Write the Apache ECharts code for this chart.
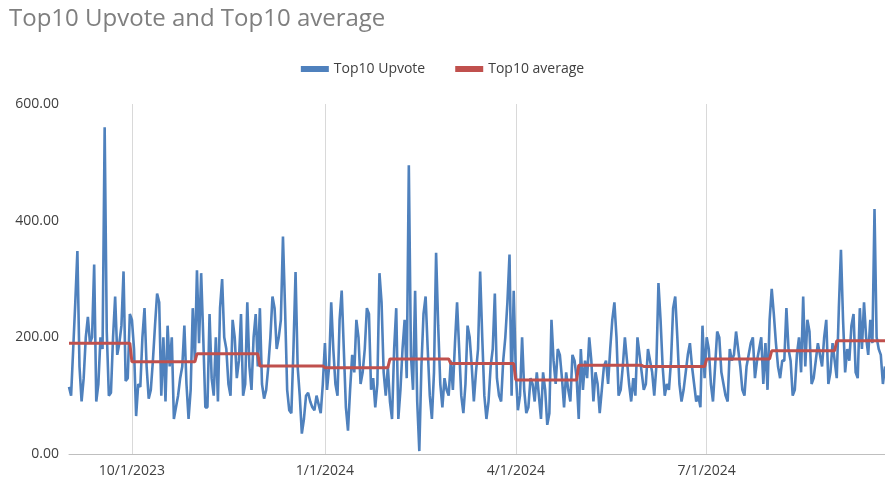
<!DOCTYPE html>
<html><head><meta charset="utf-8">
<script src="https://cdn.jsdelivr.net/npm/echarts@6/dist/echarts.min.js"></script>
<style>html,body{margin:0;padding:0;background:#fff}#c{width:885px;height:488px}</style>
</head><body><div id="c"></div>
<script>
const startDate = [2023, 8, 1]; // Sep 1 2023 (month 0-based)
const sep23 = [115,100,180,260,348,150,90,130,200,235,190,200,325,90,120,200,180,560,210,100,105,200,270,170,190,220,313,125,130,240];
const oct23 = [230,180,65,120,115,200,250,150,95,110,160,220,275,260,100,200,90,220,150,200,60,80,100,130,150,220,120,60,110,250,160];
const nov23 = [315,190,310,200,80,80,240,130,100,200,90,250,300,200,180,120,100,230,200,130,160,240,100,120,260,150,110,200,240,150];
const dec23 = [250,120,95,110,150,200,270,250,180,200,230,373,250,110,75,70,180,312,150,100,35,60,100,105,90,80,75,100,85,70,120];
const jan24 = [190,110,150,260,180,120,100,230,280,180,80,40,110,170,140,230,200,120,140,180,250,240,110,130,80,120,310,260,140,100,150];
const feb24 = [90,60,180,250,60,110,180,230,130,495,170,110,280,90,5,150,240,270,180,100,60,140,345,220,120,80,130,110,100];
const mar24 = [160,110,190,260,180,100,70,120,220,200,150,90,140,180,313,200,100,60,90,150,180,275,130,100,90,160,200,260,342,100,280];
const apr24 = [140,75,100,200,110,70,80,130,120,90,140,100,60,140,110,50,70,230,160,120,180,170,130,80,140,110,90,170,160,130];
const may24 = [60,180,110,160,130,200,160,90,140,120,70,110,150,160,120,180,230,260,200,100,110,150,200,160,120,90,130,100,200,170,140];
const jun24 = [110,120,180,160,140,100,150,293,230,150,100,120,110,160,250,270,200,120,90,110,140,170,190,150,120,90,100,80,220,130];
const jul24 = [200,180,120,90,150,210,200,140,120,100,90,180,160,170,210,180,150,110,100,150,170,190,200,130,160,180,200,120,190,110,230];
const aug24 = [283,240,190,150,130,160,160,250,180,160,100,110,170,200,140,270,150,230,210,120,130,160,190,170,150,200,230,120,140,190,160];
const sep24 = [130,250,350,230,140,180,160,220,240,140,130,250,180,260,200,170,230,190,420,200,180,170,120,150];
const months = [sep23,oct23,nov23,dec23,jan24,feb24,mar24,apr24,may24,jun24,jul24,aug24,sep24];
const monthAvg = [190,158,172,151,148,163,155,127,152,150,163,177,194];
const tickDates = ['10/1/2023','1/1/2024','4/1/2024','7/1/2024'];

const cats=[], upv=[], avg=[];
let d = new Date(startDate[0], startDate[1], startDate[2]);
months.forEach((m,mi)=>{ m.forEach(v=>{
  cats.push((d.getMonth()+1)+'/'+d.getDate()+'/'+d.getFullYear());
  upv.push(v); avg.push(monthAvg[mi]);
  d.setDate(d.getDate()+1);
});});
const showTick=(i,v)=>tickDates.includes(v);
const ch=echarts.init(document.getElementById('c'));
ch.setOption({
  animation:false,
  title:{text:'Top10 Upvote and Top10 average',left:4,top:2,textStyle:{fontFamily:'Open Sans',fontWeight:'normal',fontSize:24,color:'#7f7f7f'}},
  legend:{top:57,left:'center',itemWidth:28,itemHeight:6,itemGap:30,icon:'rect',textStyle:{fontFamily:'Open Sans',fontSize:14,color:'#404040'},
    data:['Top10 Upvote','Top10 average']},
  grid:{left:69,right:0,top:104,bottom:34},
  xAxis:{type:'category',data:cats,boundaryGap:false,
    axisLine:{lineStyle:{color:'#bfbfbf'}},axisTick:{show:false},
    axisLabel:{interval:showTick,color:'#404040',fontFamily:'Open Sans',fontSize:14,margin:10},
    splitLine:{show:true,interval:showTick,lineStyle:{color:'#d9d9d9'}}},
  yAxis:{type:'value',min:0,max:600,interval:200,splitLine:{show:false},axisLine:{show:false},axisTick:{show:false},
    axisLabel:{formatter:v=>v.toFixed(2),color:'#404040',fontFamily:'Open Sans',fontSize:14,margin:10}},
  series:[
    {name:'Top10 Upvote',type:'line',data:upv,showSymbol:false,lineStyle:{width:2.6,color:'#4f81bd'},itemStyle:{color:'#4f81bd'}},
    {name:'Top10 average',type:'line',data:avg,showSymbol:false,lineStyle:{width:3,color:'#c0504d'},itemStyle:{color:'#c0504d'}}
  ]
});
</script></body></html>
